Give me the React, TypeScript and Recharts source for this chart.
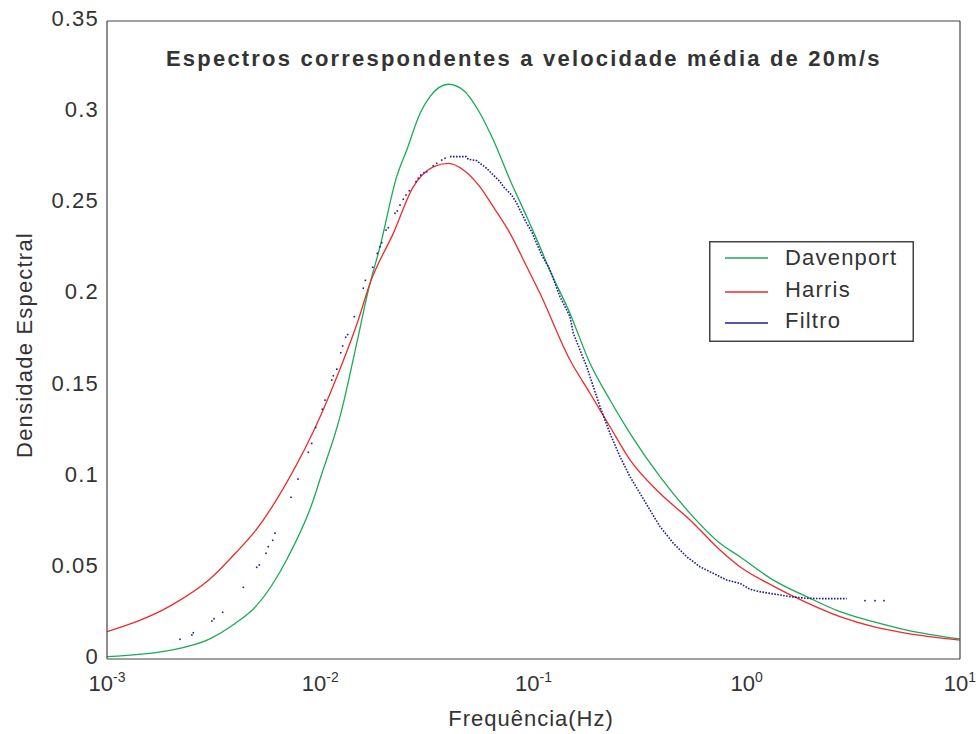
import React from 'react';
import { ComposedChart, Line, Scatter, XAxis, YAxis, Legend } from 'recharts';

// Davenport spectrum (frequency Hz, spectral density)
const DAVENPORT_F = [0.001, 0.002, 0.003, 0.004, 0.005, 0.007, 0.00928, 0.01, 0.01238, 0.01507, 0.01681, 0.01905, 0.02283, 0.0254, 0.0294, 0.0327, 0.0399, 0.0469, 0.0561, 0.0648, 0.0776, 0.093, 0.1072, 0.1173, 0.1483, 0.184, 0.2284, 0.2835, 0.3918, 0.542, 0.749, 0.929, 1.332, 1.91, 2.735, 3.92, 5.62, 10];
const DAVENPORT_S = [0.0013, 0.0049, 0.0108, 0.0196, 0.029, 0.055, 0.0872, 0.099, 0.133, 0.177, 0.2024, 0.226, 0.2646, 0.279, 0.2994, 0.3085, 0.3153, 0.312, 0.2994, 0.2847, 0.2628, 0.2426, 0.2262, 0.2152, 0.1896, 0.1622, 0.1421, 0.1238, 0.1, 0.0799, 0.0635, 0.0561, 0.0433, 0.0342, 0.026, 0.0205, 0.0159, 0.011];

// Harris spectrum
const HARRIS_F = [0.001, 0.002, 0.003, 0.004, 0.005, 0.007, 0.01, 0.01215, 0.01508, 0.0171, 0.022, 0.0273, 0.0339, 0.0399, 0.0469, 0.0561, 0.0648, 0.0776, 0.093, 0.1072, 0.1483, 0.184, 0.2284, 0.2835, 0.3918, 0.542, 0.749, 0.929, 1.332, 1.91, 2.735, 3.92, 5.62, 10];
const HARRIS_S = [0.015, 0.0294, 0.0433, 0.058, 0.0708, 0.0973, 0.133, 0.1567, 0.186, 0.206, 0.2335, 0.259, 0.27, 0.2719, 0.2683, 0.259, 0.248, 0.2335, 0.2152, 0.2006, 0.164, 0.1458, 0.1274, 0.1092, 0.0909, 0.0763, 0.0598, 0.0506, 0.04, 0.0309, 0.0232, 0.0177, 0.0141, 0.0104];

// Filtro: isolated dots
const FILTRO_DOT_F = [0.0022, 0.0025, 0.00254, 0.0031, 0.003175, 0.003487, 0.004357, 0.005035, 0.005178, 0.005567, 0.005707, 0.005984, 0.006135, 0.00729, 0.007864, 0.00879, 0.00912, 0.00952, 0.01022, 0.01053, 0.01132, 0.01151, 0.01195, 0.01247, 0.01274, 0.01316, 0.01345, 0.01444, 0.01592, 0.01627, 0.01762, 0.01851, 0.01906, 0.01942, 0.02034, 0.02085, 0.02241, 0.02298, 0.02366, 0.02452, 0.02524, 0.02616, 0.02812, 0.02883, 0.02958, 0.03066, 0.03157, 0.03389, 0.03516, 0.03711, 0.03846, 3.585, 3.995, 4.402];
const FILTRO_DOT_S = [0.0108, 0.0132, 0.0144, 0.0208, 0.0221, 0.0256, 0.0393, 0.0503, 0.0516, 0.058, 0.0616, 0.0651, 0.069, 0.0887, 0.0987, 0.1134, 0.1183, 0.127, 0.137, 0.142, 0.153, 0.1554, 0.159, 0.168, 0.1717, 0.1765, 0.178, 0.1878, 0.2034, 0.2077, 0.2149, 0.2225, 0.2262, 0.2284, 0.2353, 0.2366, 0.2445, 0.2458, 0.249, 0.2522, 0.2545, 0.2569, 0.2619, 0.2637, 0.2655, 0.2668, 0.2673, 0.2706, 0.2719, 0.2737, 0.2747, 0.032, 0.032, 0.032];

// Filtro: dense dotted stretch
const FILTRO_RUN_F = [0.04059, 0.04239, 0.04426, 0.04622, 0.04826, 0.04947, 0.05415, 0.05612, 0.06033, 0.06252, 0.06599, 0.06966, 0.07218, 0.07488, 0.07905, 0.08343, 0.08646, 0.09292, 0.09808, 0.1035, 0.1092, 0.1173, 0.1195, 0.1331, 0.1483, 0.1537, 0.1652, 0.1776, 0.1908, 0.2051, 0.2284, 0.2544, 0.2835, 0.3158, 0.3518, 0.392, 0.4525, 0.5229, 0.6037, 0.6969, 0.8054, 0.9299, 1.036, 1.154, 1.332, 1.596, 1.91, 2.371, 2.942];
const FILTRO_RUN_S = [0.2756, 0.2756, 0.2756, 0.2756, 0.2756, 0.2741, 0.2734, 0.2719, 0.2692, 0.2673, 0.2646, 0.2619, 0.2591, 0.2573, 0.2545, 0.25, 0.2463, 0.239, 0.2344, 0.228, 0.2216, 0.2152, 0.2134, 0.1988, 0.1878, 0.1787, 0.1695, 0.1604, 0.1494, 0.1384, 0.1238, 0.111, 0.1, 0.0909, 0.0817, 0.0726, 0.0635, 0.0561, 0.0506, 0.047, 0.0433, 0.0415, 0.0382, 0.0369, 0.0357, 0.0342, 0.0333, 0.0331, 0.0331];

const X_MAJOR = [0.001, 0.01, 0.1, 1, 10];
const X_MINOR = [2, 3, 4, 5, 6, 7, 8, 9].flatMap((m) => [0.001, 0.01, 0.1, 1].map((d) => m * d));
const Y_TICKS = [0, 0.05, 0.1, 0.15, 0.2, 0.25, 0.3, 0.35];

const TITLE = 'Espectros correspondentes a velocidade média de 20m/s';
const SERIES = ['Davenport', 'Harris', 'Filtro'];
const COLORS = ['#1aaa5a', '#ee2b2b', '#1f1f8f'];

const pairs = (f: number[], s: number[]) => f.map((v, i) => ({ f: v, v: s[i] }));
const davenport = pairs(DAVENPORT_F, DAVENPORT_S);
const harris = pairs(HARRIS_F, HARRIS_S);
const filtroDots = pairs(FILTRO_DOT_F, FILTRO_DOT_S);
const filtroRun = pairs(FILTRO_RUN_F, FILTRO_RUN_S);

const FONT = '"Liberation Sans", Arial, Helvetica, sans-serif';
const INK = '#333333';
const FRAME = '#444444';

const LogTick = ({ x, y, payload }: any) => {
  const exp = Math.round(Math.log10(payload.value));
  return (
    <text x={x} y={y + 32} textAnchor="middle" fontFamily={FONT} fontSize={22} fill={INK}>
      10
      <tspan dy={-9} fontSize={14}>{exp}</tspan>
    </text>
  );
};

const YTick = ({ x, y, payload }: any) => (
  <text x={x} y={y + 5} textAnchor="end" fontFamily={FONT} fontSize={22} letterSpacing={1.2} fill={INK}>
    {String(payload.value)}
  </text>
);

const Dot = ({ cx, cy }: any) => (
  <rect x={cx - 0.8} y={cy - 0.8} width={1.6} height={1.6} fill={COLORS[2]} />
);

const LegendBox = () => (
  <svg width={205} height={101} style={{ display: 'block' }}>
    <rect x={0.75} y={0.75} width={203.5} height={99.5} fill="#fff" stroke={FRAME} strokeWidth={1.5} />
    {SERIES.map((name, i) => {
      const lineY = [17, 51, 82][i];
      const textY = [24, 56, 87][i];
      return (
        <g key={name}>
          <line x1={16} x2={59} y1={lineY} y2={lineY} stroke={COLORS[i]} strokeWidth={1.3} />
          <text x={76} y={textY} fontFamily={FONT} fontSize={22} letterSpacing={1.2} fill={INK}>
            {name}
          </text>
        </g>
      );
    })}
  </svg>
);

// shared props for the tick-only frame axes
const frameX = {
  type: 'number' as const,
  scale: 'log' as const,
  domain: [0.001, 10],
  allowDataOverflow: true,
  interval: 0,
  mirror: true,
  height: 1,
  tick: false,
  tickLine: { stroke: FRAME },
};
const frameY = {
  type: 'number' as const,
  domain: [0, 0.35],
  allowDataOverflow: true,
  ticks: Y_TICKS,
  interval: 0,
  mirror: true,
  width: 1,
  tick: false,
  tickSize: 9,
  tickLine: { stroke: FRAME },
  axisLine: { stroke: FRAME, strokeWidth: 1.2 },
};

export default function App() {
  return (
    <div style={{ position: 'absolute', left: 0, top: 0, width: 980, height: 734, background: '#fff' }}>
      <ComposedChart width={980} height={734} margin={{ top: 21, right: 20, bottom: 0, left: 0 }}>
        <XAxis
          xAxisId="x"
          dataKey="f"
          type="number"
          scale="log"
          domain={[0.001, 10]}
          allowDataOverflow
          ticks={X_MAJOR}
          tick={<LogTick />}
          tickLine={false}
          tickSize={0}
          tickMargin={0}
          axisLine={false}
          height={75}
          interval={0}
        />
        <XAxis xAxisId="xb" {...frameX} ticks={X_MAJOR} tickSize={9} axisLine={{ stroke: FRAME, strokeWidth: 1.2 }} />
        <XAxis xAxisId="xbm" {...frameX} ticks={X_MINOR} tickSize={5} axisLine={false} />
        <XAxis xAxisId="xt" orientation="top" {...frameX} ticks={X_MAJOR} tickSize={9} axisLine={{ stroke: FRAME, strokeWidth: 1.2 }} />
        <XAxis xAxisId="xtm" orientation="top" {...frameX} ticks={X_MINOR} tickSize={5} axisLine={false} />

        <YAxis
          yAxisId="y"
          type="number"
          domain={[0, 0.35]}
          allowDataOverflow
          ticks={Y_TICKS}
          interval={0}
          width={107}
          tick={<YTick />}
          tickLine={false}
          tickSize={0}
          tickMargin={8}
          axisLine={false}
        />
        <YAxis yAxisId="yl" {...frameY} />
        <YAxis yAxisId="yr" orientation="right" {...frameY} />

        <Line xAxisId="x" yAxisId="y" data={davenport} dataKey="v" name="Davenport" type="monotone"
          stroke={COLORS[0]} strokeWidth={1.3} dot={false} activeDot={false} isAnimationActive={false} />
        <Line xAxisId="x" yAxisId="y" data={harris} dataKey="v" name="Harris" type="monotone"
          stroke={COLORS[1]} strokeWidth={1.3} dot={false} activeDot={false} isAnimationActive={false} />
        <Line xAxisId="x" yAxisId="y" data={filtroRun} dataKey="v" name="Filtro" type="linear"
          stroke={COLORS[2]} strokeWidth={1.6} strokeDasharray="1.6 1.4" dot={false} activeDot={false} isAnimationActive={false} />
        <Scatter xAxisId="x" yAxisId="y" data={filtroDots} dataKey="v" name="Filtro pts"
          shape={<Dot />} isAnimationActive={false} />

        <Legend
          layout="vertical"
          align="center"
          verticalAlign="middle"
          width={205}
          height={101}
          wrapperStyle={{ left: 709, top: 241, width: 205, height: 101 }}
          content={() => <LegendBox />}
        />

        <text x={166} y={66} fontFamily={FONT} fontWeight="bold" fontSize={22} letterSpacing={2.2} fill={INK}>
          {TITLE}
        </text>
        <text x={531} y={726} textAnchor="middle" fontFamily={FONT} fontSize={22} letterSpacing={1} fill={INK}>
          Frequência(Hz)
        </text>
        <text transform="rotate(-90)" x={-345} y={32} textAnchor="middle" fontFamily={FONT} fontSize={22} letterSpacing={1.2} fill={INK}>
          Densidade Espectral
        </text>
      </ComposedChart>
    </div>
  );
}
